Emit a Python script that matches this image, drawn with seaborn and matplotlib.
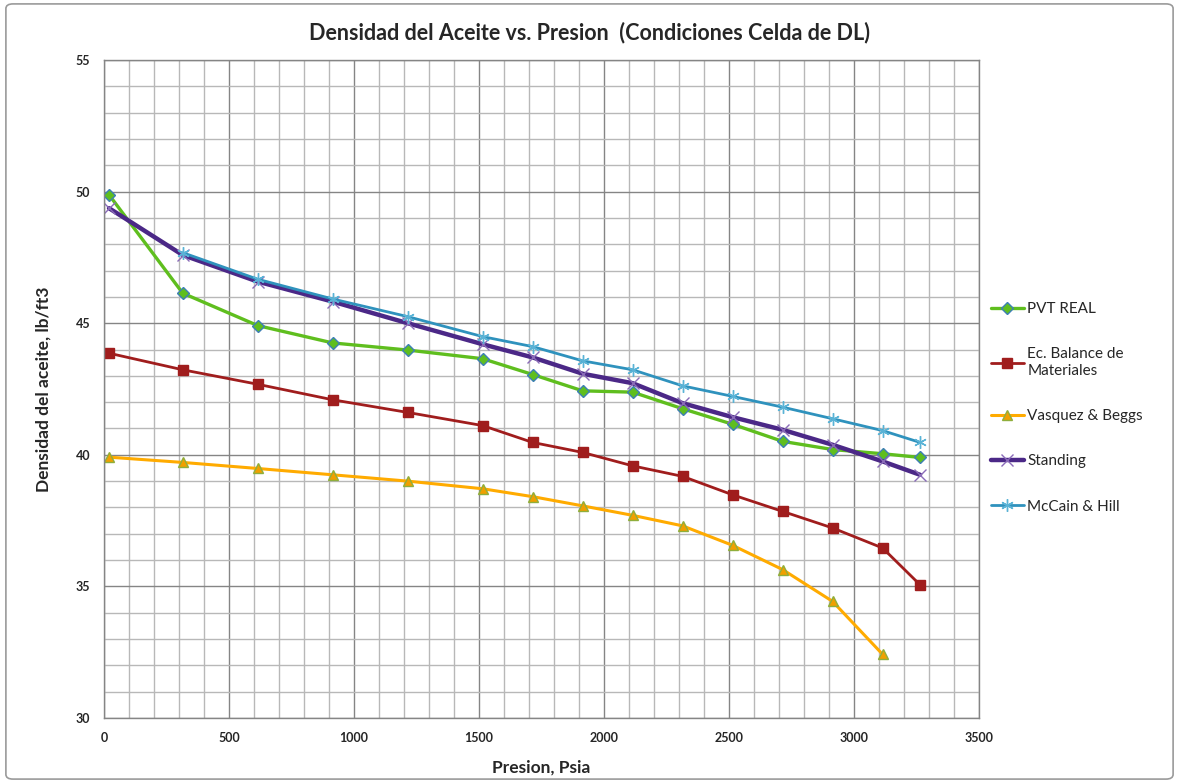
import matplotlib
matplotlib.use("Agg")
import matplotlib.pyplot as plt
import pandas as pd
import seaborn as sns
import numpy as np
from matplotlib.patches import FancyBboxPatch

# Data
presion = [20, 315, 615, 915, 1215, 1515, 1715, 1915, 2115, 2315, 2515, 2715, 2915, 3115, 3265]
pvt_real = [49.88, 46.14, 44.91, 44.25, 43.98, 43.65, 43.05, 42.43, 42.38, 41.75, 41.16, 40.51, 40.2, 40.04, 39.9]
balance = [43.86, 43.23, 42.68, 42.09, 41.61, 41.11, 40.47, 40.09, 39.58, 39.18, 38.48, 37.85, 37.22, 36.46, 35.06]
presion_vb = presion[:-1]
vasquez = [39.91, 39.71, 39.48, 39.24, 39.0, 38.71, 38.41, 38.06, 37.7, 37.3, 36.56, 35.64, 34.43, 32.42]
standing = [49.37, 47.59, 46.58, 45.82, 45.0, 44.2, 43.7, 43.08, 42.72, 41.96, 41.43, 40.95, 40.38, 39.75, 39.24]
presion_mh = presion[1:]
mccain = [47.68, 46.67, 45.92, 45.25, 44.49, 44.11, 43.57, 43.23, 42.62, 42.22, 41.81, 41.37, 40.92, 40.47]

labels = ['PVT REAL', 'Ec. Balance de\nMateriales', 'Vasquez & Beggs', 'Standing', 'McCain & Hill']

sns.set_style("white")
plt.rcParams['font.family'] = ['Lato', 'DejaVu Sans']

fig = plt.figure(figsize=(11.79, 7.83), dpi=100)
ax = fig.add_axes([0.0882, 0.083, 0.742, 0.8404])

# grid
ax.set_xlim(0, 3500)
ax.set_ylim(30, 55)
ax.set_xticks(np.arange(0, 3501, 500))
ax.set_yticks(np.arange(30, 56, 5))
ax.set_xticks(np.arange(0, 3501, 100), minor=True)
ax.set_yticks(np.arange(30, 56, 1), minor=True)
ax.grid(which='minor', color='#b8b8b8', linewidth=1.0, zorder=0)
ax.grid(which='major', color='#858585', linewidth=1.0, zorder=0)
ax.set_axisbelow(True)
for s in ax.spines.values():
    s.set_color('#858585')
    s.set_linewidth(1.0)

series = [
    (presion, pvt_real, '#5fbe1e', 'D', '#5fbe1e', '#3d7fb5', 2.4, 6.5),
    (presion, balance, '#a01d1d', 's', '#a01d1d', '#a01d1d', 2.0, 7),
    (presion_vb, vasquez, '#ffab00', '^', '#f0a000', '#8fae3c', 2.2, 7),
    (presion, standing, '#4b2887', 'x', '#8a6bb8', '#8a6bb8', 3.2, 8),
    (presion_mh, mccain, '#2f92bd', (6, 2, 0), '#5ab3d6', '#5ab3d6', 2.0, 9),
]

for (x, y, col, mk, mfc, mec, lw, ms), lab in zip(series, labels):
    sns.lineplot(x=x, y=y, ax=ax, color=col, linewidth=lw, marker=mk,
                 markersize=ms, markerfacecolor=mfc, markeredgecolor=mec,
                 markeredgewidth=1.0, label=lab, sort=False)

ax.tick_params(which='major', length=4, color='#858585', labelsize=9, pad=6)
ax.tick_params(which='minor', length=0)
for t in ax.get_xticklabels() + ax.get_yticklabels():
    t.set_fontweight('bold')

ax.set_xlabel('Presion, Psia', fontsize=12.5, fontweight='bold', labelpad=11)
ax.set_ylabel('Densidad del aceite, lb/ft3', fontsize=12.5, fontweight='bold', labelpad=17)
fig.text(0.5, 0.958, 'Densidad del Aceite vs. Presion  (Condiciones Celda de DL)',
         ha='center', va='center', fontsize=15.5, fontweight='bold')

handles, labs = ax.get_legend_handles_labels()
ax.legend_.remove()
fig.legend(handles, labs, loc='upper left', bbox_to_anchor=(0.835, 0.622),
           frameon=False, fontsize=11, labelspacing=2.05, handlelength=2.2,
           handletextpad=0.2, borderaxespad=0)

# outer chart border
fig.patches.append(FancyBboxPatch((0.005, 0.005), 0.99, 0.99,
                                  boxstyle='round,pad=0,rounding_size=0.006',
                                  transform=fig.transFigure, facecolor='none',
                                  edgecolor='#9a9a9a', linewidth=1.2))

fig.savefig('out.png', dpi=100)
